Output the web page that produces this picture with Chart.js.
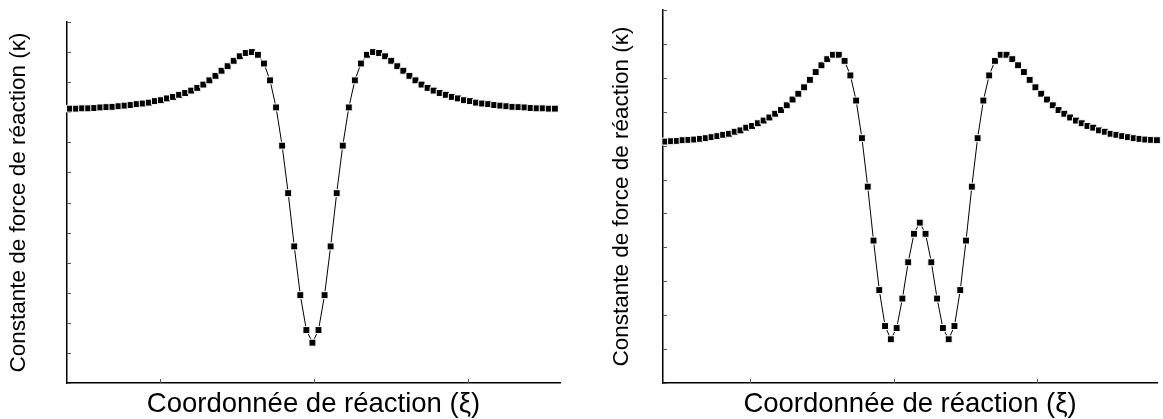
<!DOCTYPE html>
<html><head><meta charset="utf-8">
<script src="https://cdn.jsdelivr.net/npm/chart.js@4"></script>
<style>
html,body{margin:0;padding:0;background:#fff;overflow:hidden;width:1163px;height:419px;position:relative;}
#wl{position:absolute;left:0;top:0;}
#wr{position:absolute;left:600px;top:0;}
canvas{display:block;}
</style></head><body>
<div id="wl"><canvas id="cl" width="590" height="419"></canvas></div>
<div id="wr"><canvas id="cr" width="563" height="419"></canvas></div>
<script>
const yTitle = 'Constante de force de réaction (κ)';
const xTitle = 'Coordonnée de réaction (ξ)';

// left panel: force constant along reaction coordinate (one well)
const kappaLeft = [
  9.12, 9.12, 9.13, 9.13, 9.14, 9.16, 9.17, 9.18, 9.20, 9.22,
  9.24, 9.27, 9.29, 9.32, 9.37, 9.40, 9.46, 9.51, 9.58, 9.64,
  9.72, 9.81, 9.92, 10.06, 10.21, 10.38, 10.53, 10.71, 10.86, 10.97,
  11.00, 10.91, 10.62, 10.06, 9.16, 7.89, 6.31, 4.54, 2.92, 1.76,
  1.34,
  1.76, 2.92, 4.54, 6.31, 7.89, 9.16, 10.06, 10.62, 10.91, 11.00,
  10.97, 10.86, 10.71, 10.53, 10.38, 10.21, 10.06, 9.92, 9.81, 9.72,
  9.64, 9.58, 9.51, 9.46, 9.40, 9.37, 9.32, 9.29, 9.27, 9.24,
  9.22, 9.20, 9.18, 9.17, 9.16, 9.14, 9.13, 9.13, 9.12, 9.12
];
// right panel: force constant along reaction coordinate (double well)
const kappaRight = [
  7.12, 7.13, 7.14, 7.16, 7.17, 7.18, 7.20, 7.22, 7.25, 7.28,
  7.32, 7.35, 7.41, 7.45, 7.53, 7.58, 7.66, 7.74, 7.83, 7.94,
  8.05, 8.19, 8.36, 8.53, 8.72, 8.94, 9.17, 9.37, 9.55, 9.68,
  9.68, 9.50, 9.07, 8.33, 7.22, 5.79, 4.20, 2.74, 1.68, 1.29,
  1.62, 2.49, 3.56, 4.40, 4.73,
  4.40, 3.56, 2.49, 1.62, 1.29, 1.68, 2.74, 4.20, 5.79, 7.22,
  8.33, 9.07, 9.50, 9.68, 9.68, 9.55, 9.37, 9.17, 8.94, 8.72,
  8.53, 8.36, 8.19, 8.05, 7.94, 7.83, 7.74, 7.66, 7.58, 7.53,
  7.45, 7.41, 7.35, 7.32, 7.28, 7.25, 7.22, 7.20, 7.18, 7.17,
  7.16
];
const xTicksLeft = [14.85, 40.26, 65.67];
const xTicksRight = [14.67, 39.5, 64.33];
const yMaxLeft = 12;
const yMaxRight = 11;

const FONT = "'Liberation Sans', Arial, Helvetica, sans-serif";
Chart.defaults.font.family = FONT;
Chart.defaults.color = '#000';

const innerTicks = {
  id: 'innerTicks',
  beforeDatasetsDraw(chart, args, opts) {
    const {ctx, chartArea} = chart;
    const xs = chart.scales.x, ys = chart.scales.y;
    ctx.save();
    ctx.strokeStyle = opts.color;
    ctx.lineWidth = 1;
    ctx.beginPath();
    for (const t of ys.ticks) {
      const py = Math.round(ys.getPixelForValue(t.value)) + 0.5;
      ctx.moveTo(chartArea.left, py);
      ctx.lineTo(chartArea.left + opts.len, py);
    }
    for (const t of xs.ticks) {
      const px = Math.round(xs.getPixelForValue(t.value)) + 0.5;
      ctx.moveTo(px, chartArea.bottom);
      ctx.lineTo(px, chartArea.bottom - opts.len);
    }
    ctx.stroke();
    ctx.restore();
  }
};

function build(id, values, p) {
  const pts = values.map((v, i) => ({x: i, y: v}));
  return new Chart(document.getElementById(id), {
    type: 'line',
    data: {datasets: [{
      data: pts,
      borderColor: '#000',
      borderWidth: 1,
      tension: 0,
      fill: false,
      clip: false,
      pointStyle: 'rect',
      pointRadius: 4.9,
      pointBackgroundColor: '#000',
      pointBorderColor: '#fff',
      pointBorderWidth: 1
    }]},
    options: {
      responsive: false,
      animation: false,
      devicePixelRatio: 1,
      events: [],
      layout: {padding: {left: 4, top: p.top, right: p.right, bottom: 0}},
      plugins: {
        legend: {display: false},
        tooltip: {enabled: false},
        innerTicks: {len: 4, color: '#555'}
      },
      scales: {
        x: {
          type: 'linear', position: 'bottom', min: p.xMin, max: p.xMax,
          grid: {display: false}, ticks: {display: false},
          border: {display: true, color: '#000', width: 1.5},
          title: {display: true, text: xTitle, color: '#000',
            font: {family: FONT, size: 27.5, weight: 'normal', lineHeight: 1},
            padding: {top: 0, bottom: 0.5}},
          afterBuildTicks: s => { s.ticks = p.xTicks.map(v => ({value: v})); },
          afterFit: s => { s.height = 36; }
        },
        y: {
          type: 'linear', position: 'left', min: 0, max: p.yMax,
          grid: {display: false}, ticks: {display: false, stepSize: 1},
          border: {display: true, color: '#000', width: 1.5},
          title: {display: true, text: yTitle, color: '#000',
            font: {family: FONT, size: 22.5, weight: 'normal', lineHeight: 1},
            padding: {top: p.yTitlePad, bottom: 0}},
          afterFit: s => { s.width = p.yWidth; }
        }
      }
    },
    plugins: [innerTicks]
  });
}

build('cl', kappaLeft, {top: 22, right: 30, xMin: -0.5, xMax: 80.85, xTicks: xTicksLeft, yMax: yMaxLeft, yWidth: 63, yTitlePad: 3.75, spacer: 0});
build('cr', kappaRight, {top: 10, right: 1, xMin: -0.4, xMax: 85.04, xTicks: xTicksRight, yMax: yMaxRight, yWidth: 59, yTitlePad: 6.75});
</script>
</body></html>
